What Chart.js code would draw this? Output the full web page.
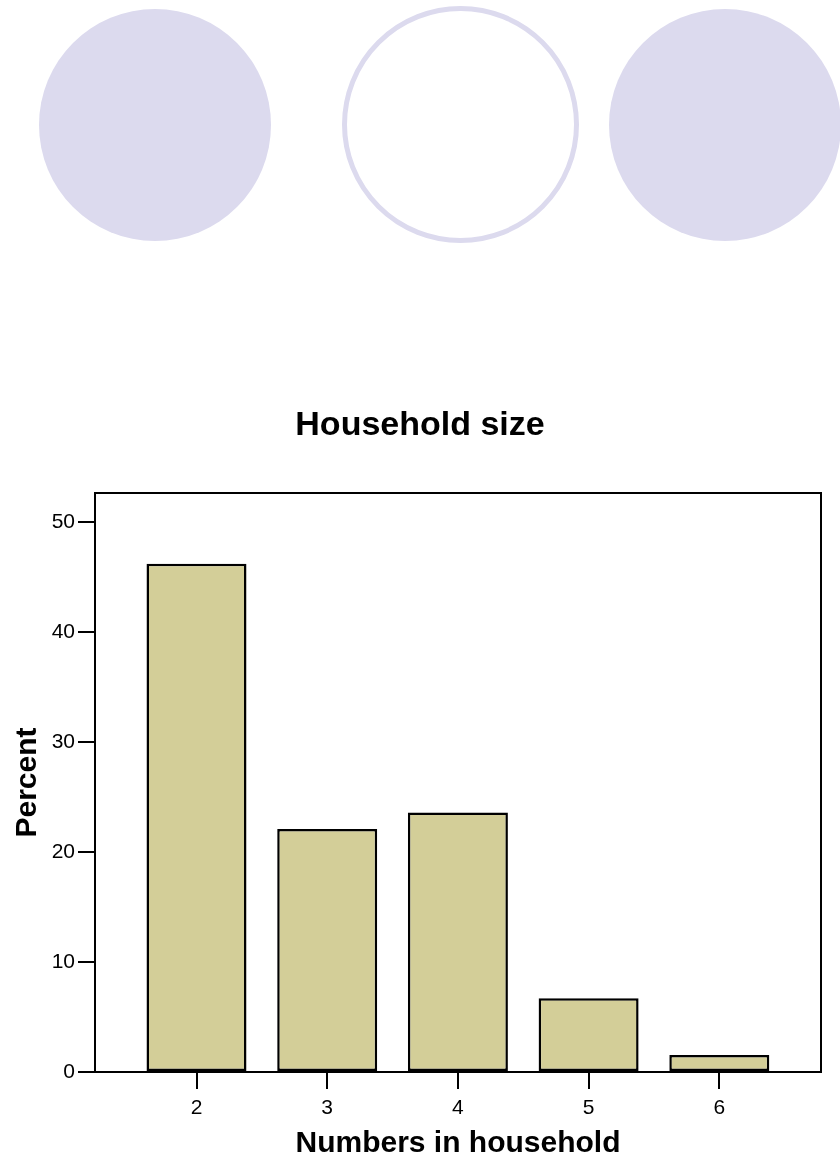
<!DOCTYPE html>
<html>
<head>
<meta charset="utf-8">
<script src="https://cdn.jsdelivr.net/npm/chart.js@4"></script>
<style>
  html, body { margin: 0; padding: 0; background: #fff; }
  #wrap { position: relative; width: 840px; height: 1155px; overflow: hidden; }
  .deco { position: absolute; border-radius: 50%; box-sizing: border-box; }
  #c { position: absolute; left: 0; top: 0; }
</style>
</head>
<body>
<div id="wrap">
  <div class="deco" style="left:39px;top:9px;width:232px;height:232px;background:#dcdaee;"></div>
  <div class="deco" style="left:342px;top:6px;width:237px;height:237px;border:5px solid #dcdaee;"></div>
  <div class="deco" style="left:609px;top:9px;width:232px;height:232px;background:#dcdaee;"></div>
  <canvas id="c" width="840" height="1155"></canvas>
</div>
<script>
const categories = [2, 3, 4, 5, 6];
const percentValues = [46.2, 22.1, 23.6, 6.7, 1.55];
const yTickValues = [0, 10, 20, 30, 40, 50];
const chartTitle = 'Household size';
const xTitle = 'Numbers in household';
const yTitle = 'Percent';

const FONT = "'Liberation Sans', Arial, Helvetica, sans-serif";

const boxPlugin = {
  id: 'boxPlugin',
  afterDatasetsDraw(chart) {
    const {ctx, chartArea: a} = chart;
    ctx.save();
    ctx.strokeStyle = '#000';
    ctx.lineWidth = 2;
    ctx.strokeRect(a.left, a.top, a.right - a.left, a.bottom - a.top);
    ctx.restore();
  }
};

new Chart(document.getElementById('c'), {
  type: 'bar',
  data: {
    datasets: [{
      data: categories.map((c, i) => ({x: c, y: percentValues[i]})),
      backgroundColor: '#d3ce98',
      borderColor: '#000',
      borderWidth: 2.5,
      borderSkipped: false,
      barPercentage: 0.765,
      categoryPercentage: 1
    }]
  },
  options: {
    responsive: false,
    animation: false,
    devicePixelRatio: 1,
    layout: { padding: { left: 19, right: 19, top: 0, bottom: 0 } },
    plugins: {
      legend: { display: false },
      tooltip: { enabled: false },
      title: {
        display: true,
        text: chartTitle,
        color: '#000',
        font: { family: FONT, size: 34, weight: 'bold', lineHeight: 1.2 },
        padding: { top: 405.6, bottom: 46.6 }
      }
    },
    scales: {
      x: {
        type: 'linear',
        min: 1.2234,
        max: 6.778,
        offset: false,
        afterFit(s) { s.height = 83; },
        afterBuildTicks(s) { s.ticks = categories.map(v => ({value: v})); },
        grid: { offset: false, drawOnChartArea: false, drawTicks: true, tickLength: 17, color: '#000', lineWidth: 2 },
        border: { display: false },
        ticks: { color: '#000', font: { family: FONT, size: 21 }, padding: 7, maxRotation: 0, autoSkip: false },
        title: {
          display: true, text: xTitle, color: '#000',
          font: { family: FONT, size: 30, weight: 'bold', lineHeight: 1 },
          padding: { top: 0, bottom: -4 }
        }
      },
      y: {
        type: 'linear',
        min: 0,
        max: 52.64,
        afterFit(s) { s.width = 76; },
        afterBuildTicks(s) { s.ticks = yTickValues.map(v => ({value: v})); },
        grid: { drawOnChartArea: false, drawTicks: true, tickLength: 17, color: '#000', lineWidth: 2 },
        border: { display: false },
        ticks: { color: '#000', font: { family: FONT, size: 21 }, padding: 3 },
        title: {
          display: true, text: yTitle, color: '#000',
          font: { family: FONT, size: 30, weight: 'bold', lineHeight: 1 },
          padding: { top: -6, bottom: 0 }
        }
      }
    }
  },
  plugins: [boxPlugin]
});
</script>
</body>
</html>
